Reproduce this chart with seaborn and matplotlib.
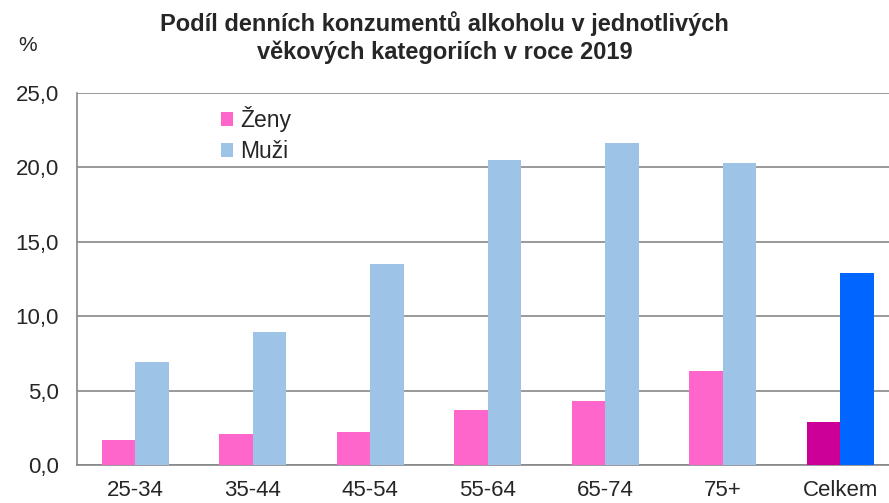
import pandas as pd
import seaborn as sns
import matplotlib.pyplot as plt
from matplotlib.ticker import FixedLocator


TITLE: str = "Podíl denních konzumentů alkoholu v jednotlivých\nvěkových kategoriích v roce 2019"

kategorie = ["25-34", "35-44", "45-54", "55-64", "65-74", "75+", "Celkem"]
zeny = [1.7, 2.1, 2.2, 3.7, 4.3, 6.3, 2.9]
muzi = [6.9, 8.9, 13.5, 20.5, 21.6, 20.3, 12.9]
y_ticks = [0, 5, 10, 15, 20, 25]
y_labels = ["0,0", "5,0", "10,0", "15,0", "20,0", "25,0"]

PINK = "#ff66cc"
LIGHT_BLUE = "#9dc3e6"
DARK_PINK = "#cc0099"
BLUE = "#0066ff"
GRID = "#878787"


df = pd.DataFrame(
    {
        "kategorie": kategorie * 2,
        "hodnota": zeny + muzi,
        "pohlavi": ["Ženy"] * len(zeny) + ["Muži"] * len(muzi),
    }
)

sns.set_style("white")
plt.rcParams["font.family"] = ["Liberation Sans", "DejaVu Sans"]

fig = plt.figure(figsize=(8.89, 5.03), dpi=100)
ax = fig.add_axes([0.0863, 0.0755, 0.925, 0.7402])

sns.barplot(
    data=df,
    x="kategorie",
    y="hodnota",
    hue="pohlavi",
    palette={"Ženy": PINK, "Muži": LIGHT_BLUE},
    width=0.57,
    saturation=1,
    linewidth=0,
    ax=ax,
    legend=False,
    zorder=3,
)

# celkem has its own stronger colours
ax.containers[0][-1].set_facecolor(DARK_PINK)
ax.containers[1][-1].set_facecolor(BLUE)

ax.set_ylim(0, 25)
ax.set_xlim(-0.5, len(kategorie) - 0.5)
ax.set_yticks(y_ticks)
ax.set_yticklabels(y_labels, fontsize=16)
ax.yaxis.grid(True, color=GRID, linewidth=1.2, zorder=0)
ax.set_axisbelow(True)

ax.xaxis.set_minor_locator(FixedLocator([i + 0.5 for i in range(len(kategorie))]))
ax.tick_params(axis="x", which="major", length=0, labelsize=16, pad=11)
ax.tick_params(axis="x", which="minor", length=6, width=1.2, color=GRID, direction="out")
ax.tick_params(axis="y", length=8, width=1.2, color=GRID, direction="out", pad=5)

for side in ["top", "right"]:
    ax.spines[side].set_visible(False)
for side in ["left", "bottom"]:
    ax.spines[side].set_color(GRID)
    ax.spines[side].set_linewidth(1.2)

ax.set_xlabel("")
ax.set_ylabel("")

handles = [ax.containers[0][0], ax.containers[1][0]]
ax.legend(
    handles,
    ["Ženy", "Muži"],
    loc="upper left",
    bbox_to_anchor=(0.164, 0.988),
    frameon=False,
    fontsize=16.5,
    handlelength=0.55,
    handleheight=0.55,
    handletextpad=0.3,
    labelspacing=0.35,
    borderaxespad=0,
)

fig.text(0.5, 0.926, TITLE, ha="center", va="center", fontsize=17, fontweight="bold", linespacing=1.25)
fig.text(0.031, 0.91, "%", ha="center", va="center", fontsize=15)

plt.savefig("out.png", dpi=100)
